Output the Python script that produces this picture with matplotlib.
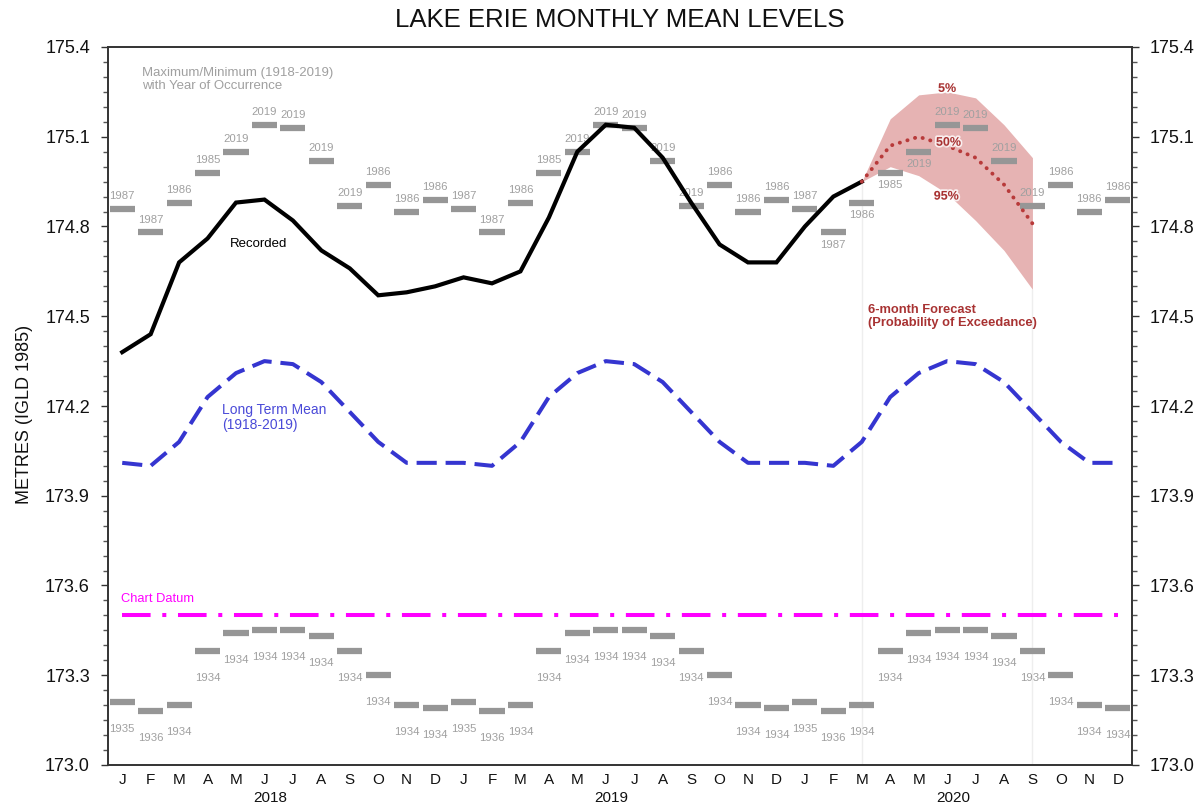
import matplotlib
matplotlib.use("Agg")
import matplotlib.pyplot as plt
import matplotlib.patheffects as pe
from matplotlib.ticker import FixedLocator, MultipleLocator, FormatStrFormatter
from matplotlib.transforms import blended_transform_factory

plt.rcParams['font.family'] = ['Liberation Sans', 'DejaVu Sans']

# ---------------- data ----------------
month_letters = ["J", "F", "M", "A", "M", "J", "J", "A", "S", "O", "N", "D"]
years = ["2018", "2019", "2020"]
y_ticks = [173.0, 173.3, 173.6, 173.9, 174.2, 174.5, 174.8, 175.1, 175.4]

# Recorded monthly mean levels, Jan 2018 .. Mar 2020
recorded = [174.38, 174.44, 174.68, 174.76, 174.88, 174.89, 174.82, 174.72, 174.66,
            174.57, 174.58, 174.60,
            174.63, 174.61, 174.65, 174.83, 175.05, 175.14, 175.13, 175.03, 174.88,
            174.74, 174.68, 174.68,
            174.80, 174.90, 174.95]

# Long term mean (1918-2019), Jan..Dec
ltm_monthly = [174.01, 174.00, 174.08, 174.23, 174.31, 174.35, 174.34, 174.28, 174.18,
               174.08, 174.01, 174.01]

# Max / min (1918-2019) with year of occurrence, Jan..Dec
max_monthly = [174.86, 174.78, 174.88, 174.98, 175.05, 175.14, 175.13, 175.02, 174.87,
               174.94, 174.85, 174.89]
max_years = ["1987", "1987", "1986", "1985", "2019", "2019", "2019", "2019", "2019",
             "1986", "1986", "1986"]
min_monthly = [173.21, 173.18, 173.20, 173.38, 173.44, 173.45, 173.45, 173.43, 173.38,
               173.30, 173.20, 173.19]
min_years = ["1935", "1936", "1934", "1934", "1934", "1934", "1934", "1934", "1934",
             "1934", "1934", "1934"]

# 6-month forecast, Mar 2020 .. Sep 2020 (month index 26..32)
fc_index = [26, 27, 28, 29, 30, 31, 32]
fc_5 = [174.95, 175.16, 175.24, 175.25, 175.23, 175.14, 175.03]
fc_50 = [174.95, 175.07, 175.10, 175.07, 175.03, 174.94, 174.81]
fc_95 = [174.95, 175.00, 174.97, 174.91, 174.82, 174.72, 174.59]

# max labels drawn below their bar (month index)
max_label_below = [25, 26, 27, 28]

chart_datum = 173.50

# ---------------- figure ----------------
n = 36
idx = list(range(n))
ltm = ltm_monthly * 3
maxv = max_monthly * 3
minv = min_monthly * 3
maxy = max_years * 3
miny = min_years * 3

fig = plt.figure(figsize=(12.03, 8.05), dpi=100)
ax = fig.add_axes([108 / 1203, 1 - 765 / 805, (1132 - 108) / 1203, (765 - 47) / 805])
ax.set_xlim(-0.5, 35.5)
ax.set_ylim(173.0, 175.4)

gray = "#969696"
lab_gray = "#a0a0a0"
dred = "#a83232"

# faint vertical lines bounding the forecast
ax.vlines([fc_index[0]], 173.0, fc_50[0], color="#eeeeee", lw=1, zorder=0)
ax.vlines([fc_index[-1]], 173.0, fc_95[-1], color="#eeeeee", lw=1, zorder=0)

# forecast band
ax.fill_between(fc_index, fc_95, fc_5, color="#e6b3b3", lw=0, zorder=1)

# max / min bars
hw = 0.44
ax.hlines(maxv, [i - hw for i in idx], [i + hw for i in idx], color=gray, lw=4.5, zorder=2)
ax.hlines(minv, [i - hw for i in idx], [i + hw for i in idx], color=gray, lw=4.5, zorder=2)
for i in idx:
    if i in max_label_below:
        off = -8.8
    else:
        off = 9.0
    ax.annotate(maxy[i], (i, maxv[i]), xytext=(0, off), textcoords="offset points",
                ha="center", va="center", fontsize=8.2, color=lab_gray, zorder=2)
    ax.annotate(miny[i], (i, minv[i]), xytext=(0, -19.4), textcoords="offset points",
                ha="center", va="center", fontsize=8.2, color=lab_gray, zorder=2)

# chart datum
ax.plot([0, 35], [chart_datum, chart_datum], color="#ff00ff", lw=2.9,
        dashes=(7.1, 2.9, 1.0, 2.9), solid_capstyle="butt", dash_capstyle="butt", zorder=3)
ax.text(-0.04, 173.555, "Chart Datum", color="#ff00ff", fontsize=9.3, ha="left", va="center")

# long term mean
ax.plot(idx, ltm, color="#3535d0", lw=2.9, dashes=(5.0, 2.2), dash_capstyle="butt", zorder=3)
ax.text(3.51, 174.162, "Long Term Mean\n(1918-2019)", color="#4a4ad8", fontsize=10,
        ha="left", va="center", linespacing=1.1)

# recorded
ax.plot(range(len(recorded)), recorded, color="black", lw=3.0, zorder=4,
        solid_joinstyle="miter")
ax.text(3.79, 174.74, "Recorded", color="black", fontsize=9.5, ha="left", va="center")

# forecast median
ax.plot(fc_index, fc_50, color="#b83a3a", lw=2.8, linestyle=(0, (0.05, 2.0)),
        dash_capstyle="round", zorder=4)

halo = [pe.withStroke(linewidth=2.5, foreground="white", alpha=0.8)]
ax.text(29.0, 175.26, "5%", color=dred, fontsize=9, fontweight="bold", ha="center",
        va="center", path_effects=halo, zorder=5)
ax.text(29.05, 175.08, "50%", color=dred, fontsize=9, fontweight="bold", ha="center",
        va="center", path_effects=halo, zorder=5)
ax.text(28.97, 174.90, "95%", color=dred, fontsize=9, fontweight="bold", ha="center",
        va="center", path_effects=halo, zorder=5)
ax.text(26.22, 174.50, "6-month Forecast\n(Probability of Exceedance)", color=dred,
        fontsize=9.3, fontweight="bold", ha="left", va="center", linespacing=1.1)

ax.text(0.70, 175.29, "Maximum/Minimum (1918-2019)\nwith Year of Occurrence", color=lab_gray,
        fontsize=9.5, ha="left", va="center", linespacing=1.1)

# axes styling
for s in ax.spines.values():
    s.set_color("#333333")
    s.set_linewidth(1.2)

ax.set_xticks(idx)
ax.set_xticklabels(month_letters * 3, fontsize=11, color="#111111")
ax.tick_params(axis="x", length=0, pad=6)

def style_y(a):
    a.yaxis.set_major_locator(FixedLocator(y_ticks))
    a.yaxis.set_minor_locator(MultipleLocator(0.05))
    a.yaxis.set_major_formatter(FormatStrFormatter("%.1f"))
    a.tick_params(axis="y", which="major", direction="out", length=5, width=1,
                  labelsize=13, pad=8, colors="#333333", labelcolor="#111111")
    a.tick_params(axis="y", which="minor", direction="out", length=3.5, width=1,
                  colors="#555555")

style_y(ax)
ax2 = ax.twinx()
ax2.set_ylim(ax.get_ylim())
style_y(ax2)
for s in ax2.spines.values():
    s.set_color("#333333")
    s.set_linewidth(1.2)

trans = blended_transform_factory(ax.transData, ax.transAxes)
for k, yr in enumerate(years):
    ax.text(5.2 + 12 * k, -0.046, yr, transform=trans, ha="center", va="center",
            fontsize=11, color="#111111")

fig.text(25 / 1203, 1 - 414 / 805, "METRES (IGLD 1985)", rotation=90, ha="center",
         va="center", fontsize=13, color="#111111")
fig.text(620 / 1203, 1 - 20 / 805, "LAKE ERIE MONTHLY MEAN LEVELS", ha="center",
         va="center", fontsize=18.5, color="#111111")

fig.savefig("out.png", dpi=100, facecolor="white")
